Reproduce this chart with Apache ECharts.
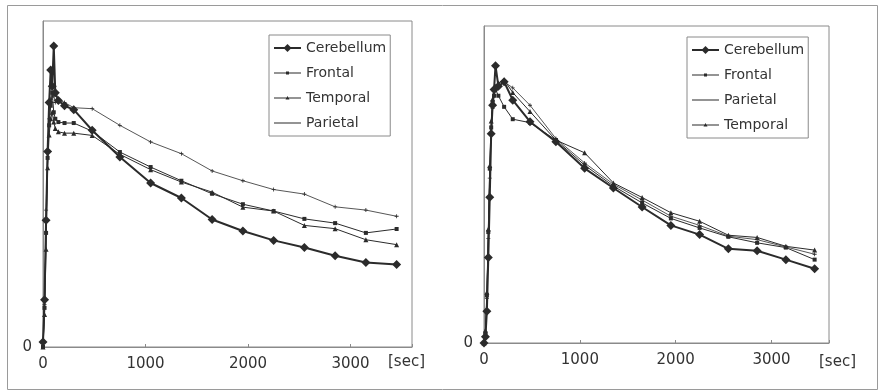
<!DOCTYPE html>
<html>
<head>
<meta charset="utf-8">
<script src="https://cdn.jsdelivr.net/npm/echarts@6/dist/echarts.min.js"></script>
<style>
  html, body { margin: 0; padding: 0; background: #fff; }
  #chart { width: 882px; height: 391px; }
</style>
</head>
<body>
<div id="chart"></div>
<script>
// Time points [sec]
const leftTime = [0, 15, 30, 45, 60, 75, 90, 105, 120, 150, 210, 300, 480, 750, 1050, 1350, 1650, 1950, 2250, 2550, 2850, 3150, 3450]
const rightTime = [0, 15, 30, 45, 60, 75, 90, 105, 120, 150, 210, 300, 480, 750, 1050, 1350, 1650, 1950, 2250, 2550, 2850, 3150, 3450]

// Left panel (arbitrary units, 0..100 = plot height)
const leftCerebellum = [1.5, 14.5, 38.9, 60, 75, 85, 80, 92.3, 78, 75.6, 74, 72.8, 66.5, 58.3, 50.3, 45.7, 39.1, 35.6, 32.7, 30.5, 28.0, 25.9, 25.3]
const leftFrontal = [0, 12, 35, 58, 68, 74, 78, 72, 70, 69, 68.7, 68.7, 66.2, 59.8, 55.2, 51.0, 47.0, 43.8, 41.7, 39.3, 38.0, 35.0, 36.2]
const leftTemporal = [0, 10, 30, 55, 65, 70, 72, 69, 67, 66, 65.6, 65.6, 64.9, 59.1, 54.4, 50.6, 47.5, 42.9, 41.7, 37.3, 36.3, 32.9, 31.4]
const leftParietal = [0, 13, 42, 60, 70, 76, 80, 77, 75, 76, 75, 73.4, 73.1, 68.0, 62.9, 59.3, 54.0, 51.0, 48.3, 46.9, 43.0, 42.0, 40.1]

// Right panel
const rightCerebellum = [0, 2, 10, 27, 46, 66, 75, 80, 87.5, 81, 82.4, 76.6, 69.8, 63.5, 55.1, 48.9, 42.9, 37.1, 34.2, 29.7, 29.1, 26.3, 23.4]
const rightFrontal = [0, 3, 15, 35, 55, 68, 76, 78, 80, 78, 74.5, 70.6, 69.5, 64.0, 56.1, 49.5, 44.2, 39.3, 36.3, 33.5, 31.6, 30.1, 26.3]
const rightParietal = [0, 3, 14, 33, 52, 66, 74, 78, 80, 81, 82.4, 80.5, 75.0, 64.5, 56.8, 50.1, 45.1, 40.0, 37.1, 33.7, 32.6, 30.3, 28.0]
const rightTemporal = [0, 4, 16, 36, 56, 70, 77, 80, 81, 82, 83, 79, 73, 64.0, 60.0, 50.5, 45.9, 41.1, 38.4, 34.0, 33.3, 30.5, 29.3]

const xTicks = [0, 1000, 2000, 3000]
const leftNames = ['Cerebellum', 'Frontal', 'Temporal', 'Parietal']
const rightNames = ['Cerebellum', 'Frontal', 'Parietal', 'Temporal']

const ink = '#2b2b2b'
const frame = '#8a8a8a'
const font = 'DejaVu Sans'
const crossPath = 'path://M0,4L4,4L4,0L6,0L6,4L10,4L10,6L6,6L6,10L4,10L4,6L0,6Z'

// legend icons drawn in a 27x10 box (corner points keep the box)
const box = 'M0,0L0.01,0L0.01,0.01ZM27,10L26.99,10L26.99,9.99Z'
const thinBar = 'M0,4.5L27,4.5L27,5.5L0,5.5Z'
const icons = {
  Cerebellum: 'path://' + box + 'M0,4L27,4L27,6L0,6ZM13.5,1L17.5,5L13.5,9L9.5,5Z',
  Frontal: 'path://' + box + thinBar + 'M12,3.5L15,3.5L15,6.5L12,6.5Z',
  Temporal: 'path://' + box + thinBar + 'M13.5,3L15.5,6.5L11.5,6.5Z',
  Parietal: 'path://' + box + 'M0,4.6L27,4.6L27,5.4L0,5.4Z' + 'M12,4.5L15,4.5L15,5.5L12,5.5Z',
}

const styles = {
  Cerebellum: { symbol: 'diamond', symbolSize: 9, width: 2 },
  Frontal: { symbol: 'rect', symbolSize: 4, width: 1 },
  Temporal: { symbol: 'triangle', symbolSize: 5, width: 1 },
  Parietal: { symbol: crossPath, symbolSize: 4, width: 0.8 },
}

function zip(t, v) {
  return t.map((x, i) => [x, v[i]])
}

function makeSeries(name, idx, t, v) {
  const s = styles[name]
  return {
    name,
    type: 'line',
    xAxisIndex: idx,
    yAxisIndex: idx,
    data: zip(t, v),
    symbol: s.symbol,
    symbolSize: s.symbolSize,
    showSymbol: true,
    animation: false,
    lineStyle: { color: ink, width: s.width },
    itemStyle: { color: ink },
  }
}

function xAxis(idx) {
  return {
    type: 'value',
    gridIndex: idx,
    min: 0,
    max: 3600,
    interval: 1000,
    axisLine: { show: true, lineStyle: { color: frame, width: 1 } },
    axisTick: { show: true, inside: true, length: 3, lineStyle: { color: frame } },
    axisLabel: {
      color: '#333',
      fontFamily: font,
      fontSize: 15,
      margin: 10,
      formatter: (v) => (xTicks.includes(v) ? String(v) : ''),
    },
    splitLine: { show: false },
  }
}

function yAxis(idx) {
  return {
    type: 'value',
    gridIndex: idx,
    min: 0,
    max: 100,
    interval: 100,
    axisLine: { show: true, lineStyle: { color: frame, width: 1 } },
    axisTick: { show: false },
    axisLabel: {
      color: '#333',
      fontFamily: font,
      fontSize: 15,
      margin: 11,
      formatter: (v) => (v === 0 ? '0' : ''),
    },
    splitLine: { show: false },
  }
}

function legend(left, top, names) {
  return {
    orient: 'vertical',
    left,
    top,
    data: names.map((n) => ({ name: n, icon: icons[n] })),
    itemWidth: 27,
    itemHeight: 10,
    itemGap: 11,
    padding: [6, 4, 6, 5],
    borderColor: frame,
    borderWidth: 1,
    selectedMode: false,
    itemStyle: { color: ink },
    textStyle: { color: '#333', fontFamily: font, fontSize: 14 },
  }
}

const chart = echarts.init(document.getElementById('chart'))
chart.setOption({
  backgroundColor: '#fff',
  animation: false,
  grid: [
    { left: 43, top: 21, width: 369, height: 326, show: true, borderColor: frame, borderWidth: 1 },
    { left: 484, top: 26, width: 345, height: 317, show: true, borderColor: frame, borderWidth: 1 },
  ],
  xAxis: [xAxis(0), xAxis(1)],
  yAxis: [yAxis(0), yAxis(1)],
  legend: [
    legend(269, 35, leftNames),
    legend(687, 37, rightNames),
  ],
  graphic: [
    {
      type: 'rect',
      shape: { x: 7.5, y: 5.5, width: 870, height: 384 },
      style: { fill: 'none', stroke: '#9a9a9a', lineWidth: 1 },
      silent: true,
    },
    {
      type: 'text', left: 388, top: 355,
      style: { text: '[sec]', fill: '#333', font: '15px "DejaVu Sans"' },
    },
    {
      type: 'text', left: 819, top: 355,
      style: { text: '[sec]', fill: '#333', font: '15px "DejaVu Sans"' },
    },
  ],
  series: [
    makeSeries('Cerebellum', 0, leftTime, leftCerebellum),
    makeSeries('Frontal', 0, leftTime, leftFrontal),
    makeSeries('Temporal', 0, leftTime, leftTemporal),
    makeSeries('Parietal', 0, leftTime, leftParietal),
    makeSeries('Cerebellum', 1, rightTime, rightCerebellum),
    makeSeries('Frontal', 1, rightTime, rightFrontal),
    makeSeries('Parietal', 1, rightTime, rightParietal),
    makeSeries('Temporal', 1, rightTime, rightTemporal),
  ],
})
</script>
</body>
</html>
